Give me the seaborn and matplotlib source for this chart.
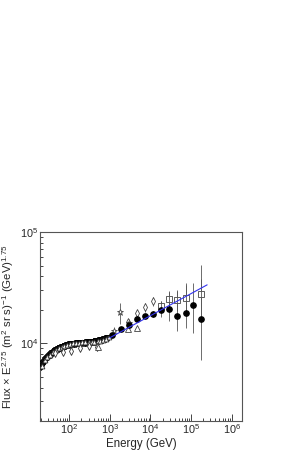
import matplotlib
matplotlib.use("Agg")
import matplotlib.pyplot as plt
import seaborn as sns
import pandas as pd

# ---- data ----
# dense low-energy spectrum (black)
low_energy = [20, 21, 22, 23, 24, 25, 26, 27, 28, 30, 31, 33, 35, 36, 38, 40, 42, 44, 46,
              48, 51, 53, 56, 58, 61, 64, 67, 70, 74, 77, 81, 85, 89, 93, 98, 102, 107,
              112, 118, 123, 129, 135, 142, 148, 155, 163, 171, 180, 189, 198, 208, 218,
              229, 240, 252, 265, 278, 290, 305, 320, 335, 350, 367, 385, 405, 425, 447,
              470, 492, 515, 542, 570, 600, 630, 660, 690, 725, 760, 800, 840, 880, 920]
low_flux = [6100, 6300, 6500, 6700, 6850, 6980, 7100, 7230, 7350, 7550, 7650, 7800, 7920,
            8000, 8100, 8200, 8320, 8450, 8550, 8650, 8750, 8850, 8930, 9000, 9080, 9150,
            9230, 9300, 9350, 9400, 9450, 9500, 9550, 9600, 9650, 9700, 9750, 9800, 9820,
            9850, 9880, 9900, 9930, 9950, 9980, 10000, 10020, 10050, 10080, 10100, 10100,
            10100, 10120, 10150, 10150, 10150, 10180, 10200, 10200, 10200, 10220, 10250,
            10280, 10300, 10320, 10350, 10380, 10400, 10450, 10500, 10550, 10600, 10650,
            10700, 10750, 10800, 10880, 10950, 11020, 11100, 11180, 11250]

# second low-energy set (open markers, slightly scattered)
low2_energy = [21, 25, 29, 34, 40, 47, 55, 65, 76, 90, 105, 125, 150, 175, 210,
               250, 300, 355, 420, 500, 590, 700, 820, 960]
low2_flux = [6300, 7000, 7500, 7900, 8300, 8700, 9000, 9300, 9500, 9700, 9900, 10000,
             10100, 10100, 10200, 10200, 10300, 10200, 10300, 10400, 10500, 10800,
             11000, 11400]

# open diamonds at low energy
diam_low_energy = [44, 71, 114, 183, 300, 480]
diam_low_flux = [8130, 8410, 8590, 9080, 9500, 9300]

# filled circles with error bars
circ_energy = [1150, 1850, 2950, 4700, 7400, 11800, 18500, 29500, 46500, 74000, 115000, 180000]
circ_flux = [11900, 13400, 14600, 16600, 17600, 18400, 19900, 20200, 17500, 18800, 22000, 16400]
circ_err_lo = [300, 400, 500, 600, 700, 1000, 2500, 4500, 4500, 5000, 9700, 9400]
circ_err_hi = [300, 400, 500, 600, 700, 1000, 4000, 9000, 12500, 16000, 13000, 34000]

# open squares
sq_energy = [18500, 29500, 46500, 74000, 180000]
sq_flux = [21500, 24900, 24500, 25600, 27500]
sq_err = [2500, 4000, 5000, 8000, 10000]

# open ellipses / diamonds at TeV
ell_energy = [2800, 4600, 7300, 11500]
ell_flux = [15500, 18600, 21000, 24000]
ell_err = [800, 1200, 1800, 2200]

# stars
star_energy = [1300, 1800, 2900]
star_flux = [13000, 19000, 15200]
star_err = [1000, 4000, 1200]

# open triangles
tri_energy = [500, 2800, 4600]
tri_flux = [9300, 13500, 13600]

# power-law fit line (blue)
fit_energy = [1000, 250000]
fit_flux = [11200, 33500]

# ---- plot ----
sns.set_style("ticks")
plt.rcParams['font.family'] = ['Liberation Sans', 'DejaVu Sans']
plt.rcParams['mathtext.default'] = 'regular'

fig = plt.figure(figsize=(2.87, 4.5), dpi=100)
ax = fig.add_axes([0.139, 0.0644, 0.704, 0.42])

ms = 3.8
ax.errorbar(low_energy, low_flux, fmt='v', color='black', ms=3.8, mfc='#222222', mec='black',
            mew=0.6, zorder=3)
ax.errorbar(low2_energy, low2_flux, fmt='^', color='black', ms=3.5, mfc='white', mec='#333333',
            mew=0.6, zorder=3)
ax.errorbar(diam_low_energy, diam_low_flux, fmt='d', ms=4, mfc='white', mec='#333333', mew=0.6, zorder=3)

ax.errorbar(circ_energy, circ_flux, yerr=[circ_err_lo, circ_err_hi], fmt='o', color='black',
            ms=ms, ecolor='#555555', elinewidth=0.6, capsize=0, zorder=4)
ax.errorbar(sq_energy, sq_flux, yerr=sq_err, fmt='s', ms=ms, mfc='white', mec='#444444', mew=0.6,
            ecolor='#555555', elinewidth=0.6, zorder=3)
ax.errorbar(ell_energy, ell_flux, yerr=ell_err, fmt='d', ms=ms, mfc='white', mec='#444444', mew=0.6,
            ecolor='#555555', elinewidth=0.6, zorder=3)
ax.errorbar(star_energy, star_flux, yerr=star_err, fmt='*', ms=4.8, mfc='white', mec='#444444', mew=0.6,
            ecolor='#555555', elinewidth=0.6, zorder=3)
ax.errorbar(tri_energy, tri_flux, fmt='^', ms=ms, mfc='white', mec='#444444', mew=0.6, zorder=3)

fit_df = pd.DataFrame({"E": fit_energy, "F": fit_flux})
sns.lineplot(data=fit_df, x="E", y="F", color='#3333ee', lw=0.8, ax=ax, zorder=5)

ax.set_xscale('log')
ax.set_yscale('log')
ax.set_xlim(19, 1.8e6)
ax.set_ylim(2000, 1e5)

ax.set_xlabel('Energy (GeV)', fontsize=8.3)
ax.set_ylabel(r'Flux × E$^{2.75}$ (m$^{2}$ sr s)$^{-1}$ (GeV)$^{1.75}$', fontsize=8.2)
ax.xaxis.set_label_coords(0.5, -0.088)
ax.yaxis.set_label_coords(-0.12, 0.5)

ax.tick_params(which='both', direction='in', top=False, right=False, labelsize=7.8, pad=1)
ax.tick_params(which='major', length=5, width=0.6)
ax.tick_params(which='minor', length=2.5, width=0.6)
ax.yaxis.set_minor_formatter(matplotlib.ticker.NullFormatter())
for s in ax.spines.values():
    s.set_linewidth(0.8)
    s.set_color('#555555')

fig.savefig('out.png', dpi=100, facecolor='white')
